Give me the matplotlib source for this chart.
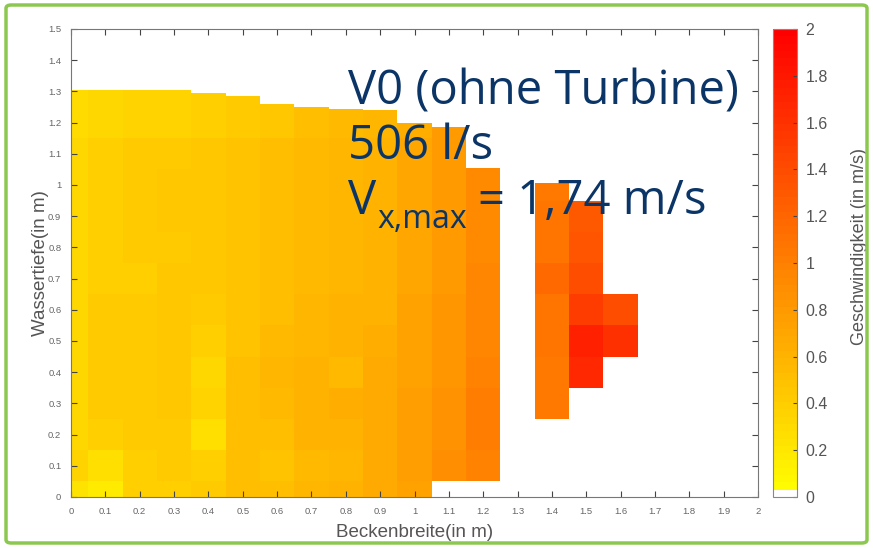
import numpy as np
import matplotlib
matplotlib.use("Agg")
import matplotlib.pyplot as plt
from matplotlib.colors import ListedColormap
from matplotlib.patches import FancyBboxPatch

# Measurement grid (m): column centres across the basin, row centres in depth
x_centers = [0.0, 0.1, 0.2, 0.3, 0.4, 0.5, 0.6, 0.7, 0.8, 0.9, 1.0, 1.1, 1.2,
             1.3, 1.4, 1.5, 1.6]
y_centers = [0.0, 0.1, 0.2, 0.3, 0.4, 0.5, 0.6, 0.7, 0.8, 0.9, 1.0, 1.1, 1.2]

# Water surface (upper edge of the top cell) per column
surface = [1.305, 1.305, 1.305, 1.305, 1.295, 1.285, 1.26, 1.25, 1.245, 1.24,
           1.20, 1.185, 1.055, 0.0, 1.005, 0.95, 0.65]

N = np.nan
# Flow velocity v_x (m/s), one row per depth (bottom first), one value per column
v_row_00 = [0.24, 0.18, 0.38, 0.40, 0.42, 0.50, 0.52, 0.58, 0.60, 0.66, 0.72, N, N, N, N, N, N]
v_row_01 = [0.36, 0.27, 0.39, 0.41, 0.39, 0.50, 0.49, 0.56, 0.58, 0.68, 0.78, 0.88, 0.98, N, N, N, N]
v_row_02 = [0.34, 0.40, 0.42, 0.43, 0.26, 0.50, 0.52, 0.60, 0.62, 0.68, 0.78, 0.86, 1.00, N, N, N, N]
v_row_03 = [0.34, 0.41, 0.43, 0.46, 0.35, 0.50, 0.56, 0.60, 0.63, 0.68, 0.76, 0.86, 1.00, N, 1.06, N, N]
v_row_04 = [0.34, 0.41, 0.42, 0.44, 0.33, 0.50, 0.58, 0.62, 0.56, 0.66, 0.74, 0.84, 0.98, N, 1.06, 1.68, N]
v_row_05 = [0.34, 0.42, 0.42, 0.44, 0.39, 0.48, 0.55, 0.58, 0.60, 0.64, 0.72, 0.84, 0.96, N, 1.07, 1.74, 1.62]
v_row_06 = [0.34, 0.41, 0.43, 0.45, 0.42, 0.48, 0.52, 0.58, 0.60, 0.62, 0.72, 0.82, 0.95, N, 1.07, 1.52, 1.38]
v_row_07 = [0.34, 0.40, 0.39, 0.44, 0.44, 0.48, 0.52, 0.56, 0.58, 0.62, 0.70, 0.80, 0.94, N, 1.16, 1.40, N]
v_row_08 = [0.34, 0.39, 0.42, 0.41, 0.44, 0.48, 0.52, 0.55, 0.58, 0.62, 0.70, 0.80, 0.93, N, 1.09, 1.32, N]
v_row_09 = [0.34, 0.39, 0.42, 0.44, 0.45, 0.48, 0.52, 0.55, 0.58, 0.62, 0.70, 0.80, 0.92, N, 1.07, 1.30, N]
v_row_10 = [0.34, 0.39, 0.42, 0.44, 0.45, 0.48, 0.52, 0.56, 0.58, 0.62, 0.70, 0.80, 0.92, N, 1.05, N, N]
v_row_11 = [0.34, 0.38, 0.41, 0.43, 0.45, 0.47, 0.52, 0.55, 0.58, 0.62, 0.70, 0.80, N, N, N, N, N]
v_row_12 = [0.31, 0.33, 0.35, 0.35, 0.40, 0.42, 0.46, 0.52, 0.55, 0.58, 0.64, N, N, N, N, N, N]

x_ticks = [round(0.1 * k, 1) for k in range(21)]
y_ticks = [round(0.1 * k, 1) for k in range(16)]
cbar_ticks = [0, 0.2, 0.4, 0.6, 0.8, 1.0, 1.2, 1.4, 1.6, 1.8, 2.0]

title_lines = ["V0 (ohne Turbine)", "506 l/s"]
vmax_parts = ["V", "x,max", "= 1,74 m/s"]

V = np.array([v_row_00, v_row_01, v_row_02, v_row_03, v_row_04, v_row_05, v_row_06,
              v_row_07, v_row_08, v_row_09, v_row_10, v_row_11, v_row_12])

plt.rcParams["font.family"] = ["Liberation Sans", "DejaVu Sans"]

# Yellow-to-red map (MATLAB autumn flipped), lowest bin white
base = plt.get_cmap("autumn_r")(np.linspace(0, 1, 64))
base[0] = [1, 1, 1, 1]
cmap = ListedColormap(base)

W, H = 873, 548
fig = plt.figure(figsize=(W / 100, H / 100), dpi=100)
fig.patch.set_facecolor("white")

ax = fig.add_axes([71 / W, 1 - 497 / H, 687 / W, 468 / H])
cax = fig.add_axes([773 / W, 1 - 497 / H, 24 / W, 468 / H])

xc = np.array(x_centers)
yc = np.array(y_centers)
mesh = None
for j, x0 in enumerate(xc):
    col = V[:, j]
    idx = np.where(~np.isnan(col))[0]
    if idx.size == 0:
        continue
    yedges = np.append(yc[idx] - 0.05, surface[j])
    yedges[0] = max(yedges[0], 0.0)
    xedges = np.array([max(x0 - 0.05, 0.0), x0 + 0.05])
    mesh = ax.pcolormesh(xedges, yedges, col[idx][:, None], cmap=cmap,
                         vmin=0, vmax=2, shading="flat", linewidth=0,
                         antialiased=False)

grey = "#555555"
ax.set_xlim(0, 2)
ax.set_ylim(0, 1.5)
ax.set_xticks(x_ticks)
ax.set_yticks(y_ticks)
ax.set_xticklabels([f"{t:g}" for t in x_ticks])
ax.set_yticklabels([f"{t:g}" for t in y_ticks])
ax.tick_params(direction="in", length=4, width=0.8, color="#444444",
               labelsize=6.8, labelcolor="#666666", top=True, right=True,
               pad=7)
for s in ax.spines.values():
    s.set_color("#777777")
    s.set_linewidth(0.8)
ax.set_xlabel("Beckenbreite(in m)", fontsize=13.5, color=grey)
ax.xaxis.set_label_coords(0.5, -0.058)
ax.set_ylabel("Wassertiefe(in m)", fontsize=13.5, color=grey)
ax.yaxis.set_label_coords(-0.032, 0.5)

cb = fig.colorbar(mesh, cax=cax, ticks=cbar_ticks)
cb.ax.set_yticklabels([f"{t:g}" for t in cbar_ticks])
cb.ax.tick_params(direction="in", length=3, color="#444444", labelsize=11.5,
                  labelcolor="#555555", pad=6)
cb.outline.set_edgecolor("#888888")
cb.outline.set_linewidth(0.8)
cb.set_label("Geschwindigkeit (in m/s)", fontsize=13, color=grey)
cb.ax.yaxis.set_label_coords(3.25, 0.535)

navy = "#0b3566"
fs = 34
tx = 348 / W
fig.text(tx, 1 - 104 / H, title_lines[0], fontsize=fs, color=navy,
         family="Open Sans", va="baseline")
fig.text(tx, 1 - 159 / H, title_lines[1], fontsize=fs, color=navy,
         family="Open Sans", va="baseline")

# Third line: V with subscript, pieces laid out one after another
renderer = fig.canvas.get_renderer()
t_v = fig.text(tx, 1 - 214 / H, vmax_parts[0], fontsize=fs, color=navy,
               family="Open Sans", va="baseline")
x_px = t_v.get_window_extent(renderer).x1 + 1
t_sub = fig.text(x_px / W, 1 - 228 / H, vmax_parts[1], fontsize=fs * 0.68,
                 color=navy, family="Open Sans", va="baseline")
x_px = t_sub.get_window_extent(renderer).x1 + 11
fig.text(x_px / W, 1 - 214 / H, vmax_parts[2], fontsize=fs, color=navy,
         family="Open Sans", va="baseline")

frame = FancyBboxPatch((6 / W, 5 / H), (W - 12) / W, (H - 10) / H,
                       boxstyle="round,pad=0,rounding_size=0.006",
                       transform=fig.transFigure, fill=False,
                       edgecolor="#8cc850", linewidth=2.5, zorder=10)
fig.patches.append(frame)

fig.savefig("out.png", dpi=100)
